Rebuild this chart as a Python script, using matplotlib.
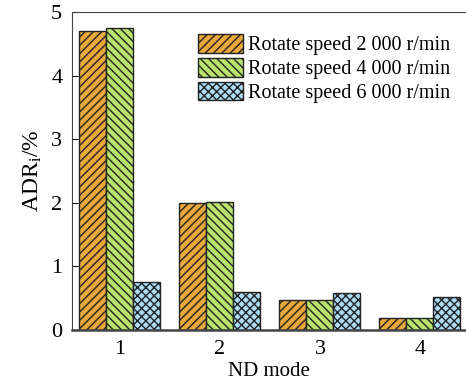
import numpy as np
import matplotlib
matplotlib.use('Agg')
import matplotlib.pyplot as plt

plt.rcParams['font.family'] = ['Liberation Serif', 'DejaVu Serif']
plt.rcParams['mathtext.fontset'] = 'custom'
plt.rcParams['mathtext.rm'] = 'Liberation Serif'
plt.rcParams['mathtext.it'] = 'Liberation Serif:italic'
plt.rcParams['hatch.linewidth'] = 1.0

modes = ['1', '2', '3', '4']
labels = ['Rotate speed 2 000 r/min', 'Rotate speed 4 000 r/min',
          'Rotate speed 6 000 r/min']
adr_2000 = [4.70, 2.00, 0.48, 0.19]
adr_4000 = [4.75, 2.02, 0.47, 0.19]
adr_6000 = [0.75, 0.60, 0.58, 0.52]

colors = ['#E9A93A', '#B8E46C', '#ABDDF4']
hatches = ['////', '\\\\\\\\', 'xxxx']

fig = plt.figure(figsize=(4.66, 3.83), dpi=100)
ax = fig.add_axes([0.1545, 0.138, 0.8455, 0.831])

x = np.arange(1, len(modes) + 1)
w = 0.27
for k, vals in enumerate([adr_2000, adr_4000, adr_6000]):
    ax.bar(x + (k - 1) * w, vals, w, color=colors[k], hatch=hatches[k],
           edgecolor='#222222', linewidth=1.0, label=labels[k])

ax.set_xlim(0.52, 4.46)
ax.set_ylim(0, 5)
ax.set_xticks(x)
ax.set_xticklabels(modes)
ax.set_yticks([0, 1, 2, 3, 4, 5])
ax.tick_params(axis='y', direction='in', length=4, labelsize=16, pad=7)
ax.tick_params(axis='x', length=0, labelsize=16, pad=7)
ax.spines['right'].set_visible(False)
for s in ['left', 'top', 'bottom']:
    ax.spines[s].set_color('#444444')
ax.spines['bottom'].set_linewidth(1.8)

ax.set_xlabel('ND mode', fontsize=15, labelpad=2)
ax.set_ylabel(r'ADR$_\mathrm{i}$/%', fontsize=17, labelpad=5)

ax.legend(loc='upper left', bbox_to_anchor=(0.3, 0.955), frameon=False,
          fontsize=14.5, handlelength=2.2, handleheight=1.05,
          handletextpad=0.25, labelspacing=0.12, borderaxespad=0)

fig.savefig('out.png', dpi=100)
